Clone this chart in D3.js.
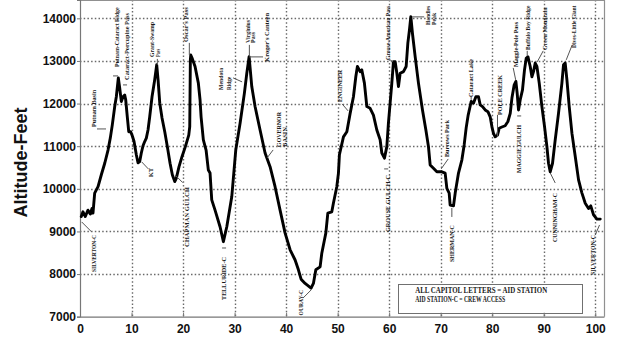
<!DOCTYPE html>
<html><head><meta charset="utf-8">
<script src="https://cdn.jsdelivr.net/npm/d3@7"></script>
<style>body{margin:0;background:#fff;} svg{display:block;}</style>
</head><body>
<svg id="c" width="620" height="343"></svg>
<script>
// ---- data (miles along course, altitude in feet) ----
const miles = [0.25,0.58,1.03,1.55,2.0,2.33,2.52,2.85,3.5,4.14,
4.8,5.44,5.88,6.27,6.74,7.05,7.44,7.71,8.02,8.35,
8.68,8.87,9.18,9.46,9.84,10.16,10.49,10.93,11.26,11.59,
11.9,12.23,12.56,12.87,13.2,13.53,13.98,14.5,14.89,15.15,
15.48,15.92,16.45,16.95,17.48,17.92,18.39,18.7,19.22,19.81,
20.45,21.11,21.3,21.42,21.5,21.75,22.33,22.97,23.3,23.5,
23.94,24.47,24.91,25.24,25.57,26.21,27.18,27.83,28.49,29.46,
30.23,31.07,31.9,32.37,32.82,33.34,33.98,34.95,35.92,36.89,
37.86,38.83,39.81,40.78,41.75,42.39,42.91,43.69,44.85,45.3,
45.77,46.6,46.93,47.44,47.71,48.1,48.87,49.18,49.84,50.16,
50.35,51.13,51.79,52.43,53.07,53.53,53.84,54.37,54.7,55.2,
55.67,56.31,56.95,57.61,58.25,58.58,59.09,59.55,59.86,60.19,
60.52,60.83,61.17,61.5,61.81,62.14,62.78,63.3,63.63,63.94,
64.21,64.52,65.05,65.69,66.47,67.13,67.63,67.96,68.6,69.26,
70.23,70.87,71.2,71.65,71.84,72.49,72.82,73.46,74.12,74.56,
74.95,75.34,75.92,76.37,76.83,77.34,77.67,78.12,78.64,79.17,
79.61,79.94,80.25,80.58,81.03,81.36,81.88,82.52,83.05,83.5,
83.83,84.27,84.6,84.85,85.11,85.44,85.88,86.27,86.6,86.93,
87.38,87.71,88.02,88.35,88.68,89.13,89.65,90.16,90.62,90.93,
91.26,91.71,92.23,92.87,93.53,93.84,94.17,94.5,94.95,95.48,
96.12,96.76,97.42,98.06,98.7,99.13,99.67,100.33,100.97];
const altitudes = [9350,9460,9350,9500,9410,9540,9430,9900,10050,10330,
10600,10910,11190,11500,11930,12160,12600,12360,12050,12160,
12200,12090,11690,11340,11340,11240,11110,10800,10610,10640,
10840,11010,11110,11190,11380,11690,12160,12560,12910,12560,
12010,11660,11340,10990,10600,10330,10170,10250,10520,10760,
10990,11260,11460,13020,13140,13070,12870,12480,12090,11690,
11150,10910,10440,10370,9740,9500,9110,8760,9110,9820,
10910,11540,12240,12710,13100,12400,11930,11380,10840,10520,
10050,9500,8960,8570,8330,8100,7880,7780,7670,7780,
8100,8170,8490,8800,8960,9430,9460,9660,10050,10370,
10800,11220,11340,11770,12160,12630,12870,12750,12790,12480,
11930,11890,11730,11380,11150,10840,10720,10990,11540,12010,
12480,12980,12980,12710,12400,12710,12750,12870,13420,13730,
14040,13650,13100,12480,11850,11380,10990,10560,10480,10400,
10400,10370,10010,9900,9620,9600,9900,10370,10680,11030,
11430,11730,12050,12010,12160,12160,11970,11930,11850,11810,
11690,11460,11300,11220,11260,11420,11450,11480,11580,11770,
12130,12440,12520,12240,11850,12090,12320,12790,13060,13100,
12870,12630,12750,12950,12870,12480,11930,11460,10990,10600,
10400,10600,11150,11770,12480,12910,12950,12560,11930,11300,
10760,10210,9900,9660,9540,9600,9390,9290,9290];
const xTickValues = [0,10,20,30,40,50,60,70,80,90,100];
const yTickValues = [7000,8000,9000,10000,11000,12000,13000,14000];
const yAxisTitle = "Altitude-Feet";
const legendLines = ["ALL CAPITOL  LETTERS = AID STATION", "AID STATION-C = CREW ACCESS"];

// place-name labels: text, mile of text centre, altitude at text start (bottom) and end (top)
const placeLabels = [
  {t:"Putnam Basin", m:2.62, b:11452, e:12321},
  {t:"Putnam-Cataract Ridge", m:7.09, b:12860, e:14260},
  {t:"Cataract-Porcupine Pass", m:9.03, b:12555, e:14128},
  {t:"KT", m:13.69, b:10279, e:10490},
  {t:"Grant-Swamp", m:13.88, b:13095, e:13917},
  {t:"Pass", m:15.05, b:13095, e:13283},
  {t:"Oscar's Pass", m:20.49, b:13447, e:14260},
  {t:"CHAPMAN GULCH", m:20.58, b:8636, e:10044},
  {t:"SILVERTON-C", m:2.66, b:8049, e:8917},
  {t:"Mendota", m:27.18, b:12321, e:12837},
  {t:"Ridge", m:28.83, b:12321, e:12626},
  {t:"Virginius", m:32.49, b:13424, e:13964},
  {t:"Pass", m:33.46, b:13424, e:13682},
  {t:"Kroger's Canteen", m:36.12, b:12978, e:14128},
  {t:"GOVERNOR", m:38.54, b:10983, e:11804},
  {t:"BASIN", m:39.71, b:10983, e:11452},
  {t:"TELLURIDE-C", m:27.86, b:7392, e:8401},
  {t:"OURAY-C", m:42.72, b:7030, e:7627},
  {t:"ENGINEER", m:50.29, b:12039, e:12790},
  {t:"GROUSE GULCH-C", m:59.61, b:8988, e:10326},
  {t:"Grouse-American Pass", m:59.71, b:13025, e:14300},
  {t:"Handies", m:67.38, b:13846, e:14290},
  {t:"Peak", m:68.54, b:13846, e:14128},
  {t:"Burrows Park", m:71.17, b:10748, e:11616},
  {t:"SHERMAN-C", m:72.04, b:8284, e:9152},
  {t:"Cataract Lake", m:75.73, b:12156, e:13048},
  {t:"POLE CREEK", m:81.36, b:11734, e:12673},
  {t:"MAGGIE GULCH", m:85.15, b:10373, e:11499},
  {t:"Maggie-Pole Pass", m:84.56, b:12860, e:13917},
  {t:"Buffalo Boy Ridge", m:86.80, b:13259, e:14300},
  {t:"Green Mountain", m:90.10, b:13259, e:14260},
  {t:"Dives-Little Giant", m:95.73, b:13306, e:14300},
  {t:"CUNNINGHAM-C", m:92.04, b:8753, e:9903},
  {t:"SILVERTON-C", m:99.42, b:7979, e:8917}
];
// leader lines [mile1, alt1, mile2, alt2]
const leaders = [
  [3.30,11405,5.05,11405],[6.41,12649,7.38,12649],[8.35,12438,9.13,12438],
  [11.98,10631,13.26,10467],[15.01,13048,15.01,12907],[21.22,13424,21.22,13142],
  [18.45,10326,19.94,10145],[0.33,9223,2.27,8988],[29.71,12603,31.46,12509],
  [32.87,13377,32.87,13119],[32.82,13095,35.53,13095],[37.48,10912,36.31,10725],
  [27.57,8612,28.35,8612],[43.30,7439,44.85,7627],[50.87,11992,52.04,11828],
  [59.03,10467,59.81,10467],[60.19,13025,60.78,12978],[64.47,14034,66.80,14034],
  [71.46,10701,70.10,10467],[72.17,9551,72.17,9340],[75.92,12156,75.92,12086],
  [81.03,11734,81.03,11218],[84.85,11710,85.63,11710],[84.08,12837,84.56,12555],
  [86.80,13236,86.80,13119],[89.90,13236,88.74,12978],[95.53,13377,94.37,13025],
  [92.23,10138,91.26,10373],[100.83,9152,100.0,8917]
];

// ---- drawing ----
const svg = d3.select("#c");
const x = d3.scaleLinear().domain([0, 101.7]).range([80, 604]);
const y = d3.scaleLinear().domain([7000, 14430]).range([316.7, 0]);
const x0 = x.range()[0], x1 = x.range()[1];
const yb = y.range()[0], yt = y.range()[1];

svg.append("rect").attr("width",620).attr("height",343).attr("fill","#fff");

// grid (dotted) drawn as paths
const gridPath = d3.path();
xTickValues.filter(d=>d>0).forEach(d=>{ const px=Math.round(x(d))+0.5; gridPath.moveTo(px,yt); gridPath.lineTo(px,yb); });
yTickValues.filter(d=>d>7000).forEach(d=>{ const py=Math.round(y(d))+0.5; gridPath.moveTo(x0,py); gridPath.lineTo(x1,py); });
svg.append("path").attr("d",gridPath.toString()).attr("fill","none")
  .attr("stroke","#6a6a6a").attr("stroke-width",1.4).attr("stroke-dasharray","1.5,2.2");

// frame (top/right)
svg.append("path").attr("d",`M${x0},0.5H${x1+0.5}V${yb}`).attr("fill","none").attr("stroke","#909090").attr("stroke-width",1.2);

// legend box
const lgX = x(61.75), lgY = y(7767), lgW = x(97.48)-x(61.75), lgH = y(7094)-y(7767);
svg.append("rect").attr("x",Math.round(lgX)+0.5).attr("y",Math.round(lgY)+0.5)
  .attr("width",Math.round(lgW)).attr("height",Math.round(lgH))
  .attr("fill","#fff").attr("stroke","#707070").attr("stroke-width",1);
const lgText = svg.append("g").attr("font-family","'Liberation Serif','Times New Roman',serif")
  .attr("font-weight","bold").attr("font-size","7.5px").attr("fill","#1a1a1a");
lgText.append("text").attr("x",x(65.05)).attr("y",y(7563)).text(legendLines[0])
  .attr("textLength",132).attr("lengthAdjust","spacingAndGlyphs");
lgText.append("text").attr("x",x(65.05)).attr("y",y(7352)).text(legendLines[1])
  .attr("textLength",90).attr("lengthAdjust","spacingAndGlyphs");

// axes
const axL = svg.append("g").attr("transform",`translate(${x0},0)`)
  .call(d3.axisLeft(y).tickValues(yTickValues).tickFormat(d3.format("d")).tickSize(3).tickPadding(1));
const axB = svg.append("g").attr("transform",`translate(0,${yb})`)
  .call(d3.axisBottom(x).tickValues(xTickValues).tickFormat(d3.format("d")).tickSizeInner(-4).tickSizeOuter(0).tickPadding(8));
[axL, axB].forEach(a=>{
  a.select(".domain").attr("stroke","#777").attr("stroke-width",1.2);
  a.selectAll(".tick line").attr("stroke","#777");
  a.selectAll("text").attr("font-family","'Liberation Sans',Arial,sans-serif").attr("font-weight","bold")
    .attr("font-size","12px").attr("fill","#111");
});

// y axis title
svg.append("text").attr("transform","translate(27,162.5) rotate(-90)")
  .attr("text-anchor","middle").attr("font-family","'Liberation Sans',Arial,sans-serif")
  .attr("font-weight","bold").attr("font-size","18px").attr("fill","#111").text(yAxisTitle);

// profile line
const pts = miles.map((m,i)=>[m, altitudes[i]]);
svg.append("path").datum(pts)
  .attr("d", d3.line().x(d=>x(d[0])).y(d=>y(d[1])))
  .attr("fill","none").attr("stroke","#000").attr("stroke-width",2.9)
  .attr("stroke-linejoin","round").attr("stroke-linecap","round");

// leaders (as one path)
const leaderPath = d3.path();
leaders.forEach(d=>{ leaderPath.moveTo(x(d[0]),y(d[1])); leaderPath.lineTo(x(d[2]),y(d[3])); });
svg.append("path").attr("d",leaderPath.toString()).attr("fill","none").attr("stroke","#555").attr("stroke-width",1);

// labels: rotated, condensed with a scale so that the run matches the span
const lbl = svg.append("g").attr("font-family","'Liberation Serif','Times New Roman',serif")
  .attr("font-weight","bold").attr("font-size","7px").attr("fill","#1a1a1a")
  .selectAll("text").data(placeLabels).join("text")
  .attr("dominant-baseline","central")
  .text(d=>d.t);
lbl.each(function(d){
  const natural = this.getComputedTextLength() || 1;
  const target = y(d.b) - y(d.e);
  const s = target / natural;
  d3.select(this).attr("transform",`translate(${x(d.m)},${y(d.b)}) rotate(-90) scale(${s},1)`);
});
</script>
</body></html>
